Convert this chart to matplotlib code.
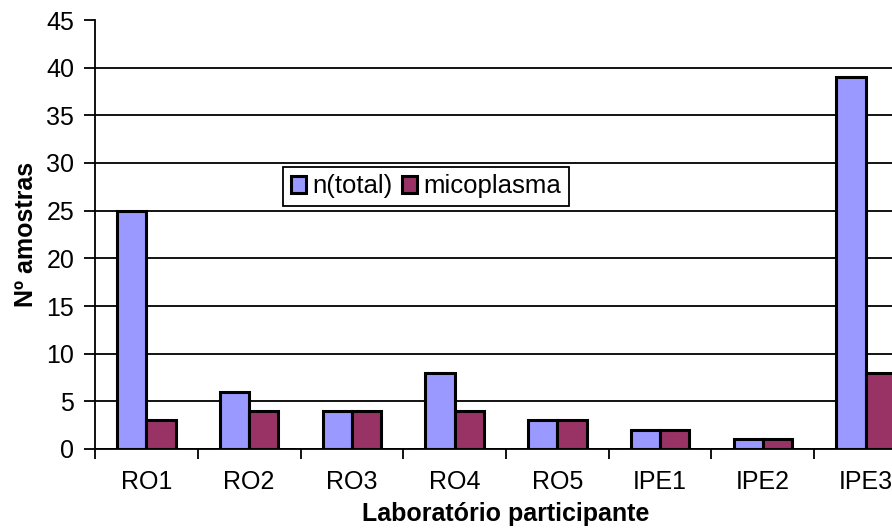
import numpy as np
import matplotlib.pyplot as plt
from matplotlib.ticker import FixedLocator, NullFormatter

laboratorios = ['RO1', 'RO2', 'RO3', 'RO4', 'RO5', 'IPE1', 'IPE2', 'IPE3']
n_total = [25, 6, 4, 8, 3, 2, 1, 39]
micoplasma = [3, 4, 4, 4, 3, 2, 1, 8]

plt.rcParams['font.family'] = ['Liberation Sans', 'DejaVu Sans']

fig = plt.figure(figsize=(8.92, 5.29), dpi=100)
# the plot area runs past the right edge on purpose
ax = fig.add_axes([95/892, 80/529, 822/892, 429/529])

x = np.arange(len(laboratorios))
w = 0.285
ax.bar(x - w/2, n_total, w, color='#9999FF', edgecolor='black', linewidth=2.2,
       label='n(total)', zorder=3)
ax.bar(x + w/2, micoplasma, w, color='#993366', edgecolor='black', linewidth=2.2,
       label='micoplasma', zorder=3)

ax.set_xlim(-0.5, len(laboratorios) - 0.5)
ax.set_ylim(0, 45)
ax.set_yticks(np.arange(0, 46, 5))
ax.yaxis.grid(True, color='black', linewidth=1.3, zorder=0)
ax.get_ygridlines()[-1].set_visible(False)

ax.set_xticks(x)
ax.set_xticklabels(laboratorios)
ax.xaxis.set_minor_locator(FixedLocator(np.arange(-0.5, len(laboratorios), 1)))
ax.xaxis.set_minor_formatter(NullFormatter())
ax.tick_params(axis='x', which='major', length=0, pad=15, labelsize=18)
ax.tick_params(axis='x', which='minor', length=7, width=1.3, direction='out')
ax.tick_params(axis='y', length=8, width=1.3, pad=7, labelsize=18)

for s in ['top', 'right']:
    ax.spines[s].set_visible(False)
ax.spines['left'].set_linewidth(1.3)
ax.spines['bottom'].set_linewidth(1.3)

ax.set_ylabel('Nº amostras', fontsize=18, fontweight='bold', labelpad=6)
ax.set_xlabel('Laboratório participante', fontsize=18, fontweight='bold', labelpad=6)

leg = ax.legend(ncol=2, loc='lower left', bbox_to_anchor=(0.2287, 0.566),
                borderaxespad=0, fontsize=18.5, frameon=True, fancybox=False,
                handlelength=0.6, handleheight=0.6, handletextpad=0.25,
                columnspacing=0.35, borderpad=0.3)
leg.get_frame().set_edgecolor('black')
leg.get_frame().set_linewidth(1.3)
leg.get_frame().set_alpha(1)

fig.savefig('out.png', dpi=100)
